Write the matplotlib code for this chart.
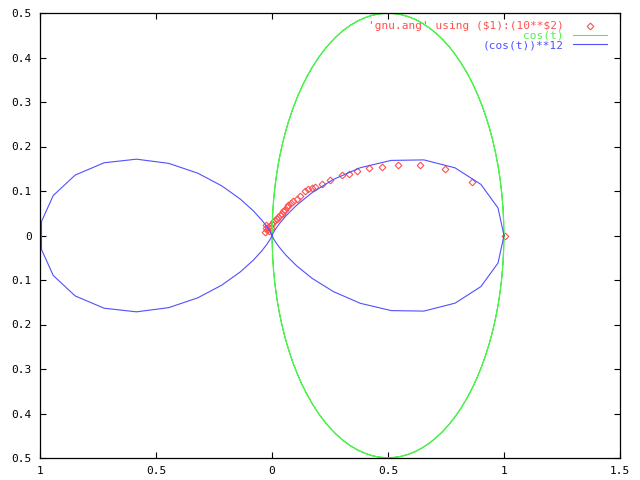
import numpy as np
import matplotlib
matplotlib.use("Agg")
import matplotlib.pyplot as plt

# gnuplot function samples (polar mode, t in [0, 2*pi], 100 samples)
t_samples = np.linspace(0, 2 * np.pi, 100)
r_cos = np.cos(t_samples)
r_cos12 = np.cos(t_samples) ** 12

# data points of 'gnu.ang' (cartesian x/y)
pts_x = [-0.030, -0.027, -0.024, -0.020, -0.016, -0.012, -0.008, -0.004, -0.001,
         0.006, 0.013, 0.020, 0.027, 0.034, 0.042, 0.049, 0.056, 0.063, 0.070,
         0.081, 0.092, 0.106, 0.121, 0.142, 0.156, 0.171, 0.185, 0.214, 0.250,
         0.300, 0.332, 0.368, 0.418, 0.475, 0.544, 0.639, 0.747, 0.863, 1.005]
pts_y = [0.008, 0.016, 0.024, 0.012, 0.019, 0.010, 0.022, 0.016, 0.026,
         0.030, 0.034, 0.038, 0.041, 0.045, 0.049, 0.054, 0.058, 0.063, 0.068,
         0.072, 0.077, 0.083, 0.088, 0.099, 0.105, 0.106, 0.109, 0.116, 0.124,
         0.137, 0.139, 0.146, 0.152, 0.155, 0.159, 0.159, 0.150, 0.121, 0.0]

x_ticks = [-1, -0.5, 0, 0.5, 1, 1.5]
x_labels = ["1", "0.5", "0", "0.5", "1", "1.5"]
y_ticks = [-0.5, -0.4, -0.3, -0.2, -0.1, 0, 0.1, 0.2, 0.3, 0.4, 0.5]
y_labels = ["0.5", "0.4", "0.3", "0.2", "0.1", "0", "0.1", "0.2", "0.3", "0.4", "0.5"]

label_pts = r"'gnu.ang' using (\$1):(10**\$2)"
label_cos = "cos(t)"
label_cos12 = "(cos(t))**12"

RED = "#ff5050"
GREEN = "#50f050"
BLUE = "#5050ff"

plt.rcParams['font.family'] = ['DejaVu Sans Mono']
plt.rcParams['font.size'] = 8

fig = plt.figure(figsize=(6.4, 4.8), dpi=100)
ax = fig.add_axes([40 / 640, 1 - 458 / 480, 580 / 640, 445 / 480])

ax.plot(pts_x, pts_y, linestyle='none', marker='D', markersize=3.4,
        markerfacecolor='none', markeredgecolor=RED, markeredgewidth=0.8,
        label=label_pts)
ax.plot(r_cos * np.cos(t_samples), r_cos * np.sin(t_samples),
        color=GREEN, linewidth=0.8, label=label_cos)
ax.plot(r_cos12 * np.cos(t_samples), r_cos12 * np.sin(t_samples),
        color=BLUE, linewidth=0.8, label=label_cos12)

ax.set_xlim(-1, 1.5)
ax.set_ylim(-0.5, 0.5)
ax.set_xticks(x_ticks)
ax.set_xticklabels(x_labels)
ax.set_yticks(y_ticks)
ax.set_yticklabels(y_labels)
ax.tick_params(direction='in', length=4, width=0.8, top=True, right=True,
               labelsize=8, pad=6, colors='black')
for s in ax.spines.values():
    s.set_linewidth(0.9)

leg = ax.legend(loc='upper right', bbox_to_anchor=(0.9776, 0.981),
                frameon=False, markerfirst=False, numpoints=1,
                handlelength=3.1, handletextpad=0.8, labelspacing=-0.05,
                borderpad=0, borderaxespad=0, fontsize=8)
for txt, c in zip(leg.get_texts(), [RED, GREEN, BLUE]):
    txt.set_color(c)

fig.savefig("out.png", dpi=100)
